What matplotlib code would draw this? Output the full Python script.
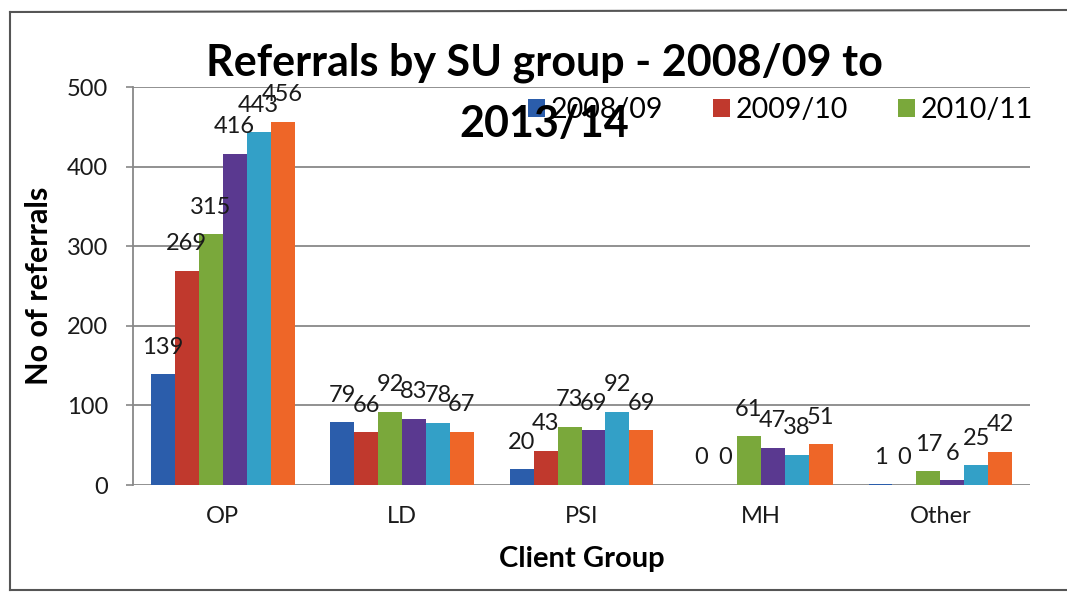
import numpy as np
import matplotlib
matplotlib.use("Agg")
import matplotlib.pyplot as plt
from matplotlib.lines import Line2D

plt.rcParams['font.family'] = ['Lato', 'DejaVu Sans']

groups = ['OP', 'LD', 'PSI', 'MH', 'Other']
years = ['2008/09', '2009/10', '2010/11', '2011/12', '2012/13', '2013/14']
referrals = [
    [139, 79, 20, 0, 1],    # 2008/09
    [269, 66, 43, 0, 0],    # 2009/10
    [315, 92, 73, 61, 17],  # 2010/11
    [416, 83, 69, 47, 6],   # 2011/12
    [443, 78, 92, 38, 25],  # 2012/13
    [456, 67, 69, 51, 42],  # 2013/14
]
colors = ['#2B5DAB', '#C0392D', '#7AA83B', '#5A3990', '#33A0C7', '#EE6628']

fig = plt.figure(figsize=(10.67, 5.96), dpi=100)
ax = fig.add_axes([0.1247, 0.1862, 0.8406, 0.6678])

x = np.arange(len(groups))
n = len(years)
width = 0.8 / n
bars = []
for i, (yr, vals, c) in enumerate(zip(years, referrals, colors)):
    pos = x - 0.4 + width * (i + 0.5)
    b = ax.bar(pos, vals, width, color=c, label=yr, zorder=3)
    bars.append(b)
    for px, v in zip(pos, vals):
        ax.annotate(str(v), (px, v), xytext=(0, 19.5), textcoords='offset points',
                    ha='center', va='center', fontsize=17, color='#1a1a1a', zorder=4)

ax.set_xlim(-0.5, len(groups) - 0.5)
ax.set_ylim(0, 500)
ax.set_yticks(range(0, 501, 100))
ax.set_xticks(x)
ax.set_xticklabels(groups, fontsize=17, color='#1a1a1a')
ax.tick_params(axis='y', labelsize=17, labelcolor='#1a1a1a', length=5, width=1.2,
               color='#888888', pad=13)
ax.tick_params(axis='x', length=0, pad=15)
ax.grid(axis='y', color='#888888', linewidth=1.3, zorder=0)
for s in ['top', 'right', 'bottom']:
    ax.spines[s].set_visible(False)
ax.spines['left'].set_color('#888888')
ax.spines['left'].set_linewidth(1.3)

ax.set_xlabel('Client Group', fontsize=21, fontweight='bold', labelpad=14)
ax.set_ylabel('No of referrals', fontsize=22, fontweight='bold', labelpad=10)

# legend only has room for the first three years
ax.legend(handles=bars[:3], loc='center left', bbox_to_anchor=(528 / 1067, 1 - 110 / 596),
          bbox_transform=fig.transFigure, ncol=3, frameon=False, fontsize=20.5,
          handlelength=0.6, handleheight=0.6, handletextpad=0.2, columnspacing=1.75,
          borderpad=0, borderaxespad=0)

fig.text(544 / 1067, 1 - 93 / 596, 'Referrals by SU group - 2008/09 to\n2013/14',
         ha='center', va='center', multialignment='center', fontsize=31,
         fontweight='bold', linespacing=1.65, zorder=5)

# outer chart border
border = dict(color='#555555', linewidth=1.5, transform=fig.transFigure)
fig.add_artist(Line2D([10 / 1067, 10 / 1067], [1 - 12 / 596, 1 - 590 / 596], **border))
fig.add_artist(Line2D([10 / 1067, 1.0], [1 - 12 / 596, 1 - 10 / 596], **border))
fig.add_artist(Line2D([10 / 1067, 1.0], [1 - 590 / 596, 1 - 590 / 596], **border))

fig.savefig('out.png', dpi=100)
